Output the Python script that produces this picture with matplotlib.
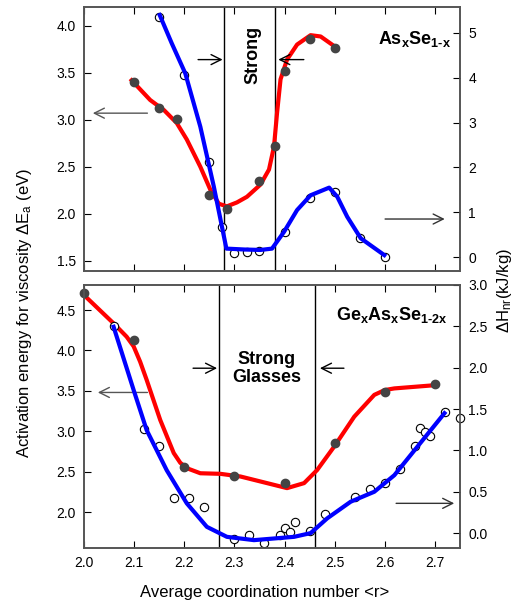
import numpy as np
import matplotlib
matplotlib.use('Agg')
from matplotlib import pyplot as plt

plt.rcParams['font.family'] = ['Liberation Sans', 'DejaVu Sans']
plt.rcParams['mathtext.fontset'] = 'custom'
plt.rcParams['mathtext.rm'] = 'Liberation Sans'
plt.rcParams['mathtext.it'] = 'Liberation Sans'
plt.rcParams['mathtext.bf'] = 'Liberation Sans:bold'

# ---- AsxSe1-x (top panel) ----
top_r_pts = [2.10, 2.15, 2.185, 2.25, 2.285, 2.35, 2.38, 2.40, 2.45, 2.50]
top_e_pts = [3.40, 3.13, 3.01, 2.20, 2.05, 2.35, 2.72, 3.52, 3.86, 3.76]
top_e_fit_r = [2.095, 2.132, 2.16, 2.185, 2.205, 2.232, 2.252, 2.269, 2.285, 2.305, 2.325,
               2.352, 2.369, 2.379, 2.385, 2.392, 2.405, 2.425, 2.452, 2.472, 2.50]
top_e_fit = [3.42, 3.21, 3.10, 2.965, 2.79, 2.50, 2.255, 2.106, 2.078, 2.12, 2.18,
             2.31, 2.47, 2.716, 3.07, 3.43, 3.64, 3.80, 3.90, 3.886, 3.78]

top_h_r_pts = [2.15, 2.20, 2.25, 2.275, 2.30, 2.325, 2.35, 2.40, 2.45, 2.50, 2.55, 2.60]
top_h_pts = [5.35, 4.06, 2.13, 0.68, 0.10, 0.12, 0.14, 0.55, 1.33, 1.46, 0.42, 0.01]
top_h_fit_r = [2.151, 2.175, 2.202, 2.232, 2.259, 2.284, 2.32, 2.352, 2.375, 2.399,
               2.425, 2.452, 2.489, 2.505, 2.525, 2.552, 2.599]
top_h_fit = [5.40, 4.77, 4.10, 2.91, 1.57, 0.19, 0.17, 0.16, 0.19, 0.565,
             1.05, 1.38, 1.55, 1.35, 0.90, 0.42, 0.045]

# ---- GexAsxSe1-2x (bottom panel) ----
bot_r_pts = [2.0, 2.1, 2.2, 2.3, 2.4, 2.5, 2.6, 2.7]
bot_e_pts = [4.71, 4.13, 2.56, 2.45, 2.36, 2.85, 3.49, 3.58]
bot_e_fit_r = [2.0, 2.059, 2.085, 2.099, 2.112, 2.125, 2.152, 2.179, 2.192, 2.205, 2.232,
               2.272, 2.312, 2.365, 2.405, 2.439, 2.465, 2.499, 2.539, 2.579, 2.60,
               2.619, 2.70]
bot_e_fit = [4.685, 4.335, 4.17, 4.05, 3.86, 3.635, 3.14, 2.73, 2.61, 2.543, 2.48,
             2.473, 2.44, 2.358, 2.296, 2.358, 2.52, 2.81, 3.18, 3.45, 3.51,
             3.53, 3.57]

bot_h_r_pts = [2.06, 2.12, 2.15, 2.18, 2.21, 2.24, 2.30, 2.33, 2.36, 2.39, 2.40, 2.41,
               2.42, 2.45, 2.48, 2.54, 2.57, 2.60, 2.63, 2.66, 2.67, 2.68, 2.69, 2.72, 2.75]
bot_h_pts = [2.51, 1.26, 1.05, 0.43, 0.43, 0.31, -0.07, -0.02, -0.12, -0.02, 0.06, 0.01,
             0.14, 0.02, 0.23, 0.44, 0.53, 0.60, 0.77, 1.05, 1.27, 1.22, 1.18, 1.47, 1.39]
bot_h_fit_r = [2.059, 2.099, 2.125, 2.165, 2.205, 2.245, 2.285, 2.339, 2.419, 2.452,
               2.485, 2.532, 2.579, 2.619, 2.659, 2.719]
bot_h_fit = [2.495, 1.73, 1.245, 0.76, 0.36, 0.076, -0.045, -0.085, -0.045, 0.0,
             0.178, 0.38, 0.50, 0.70, 1.00, 1.45]

x_ticks = [2.0, 2.1, 2.2, 2.3, 2.4, 2.5, 2.6, 2.7]

fig = plt.figure(figsize=(5.27, 6.07), dpi=100)
ax_top = fig.add_axes([0.1594, 0.5535, 0.7135, 0.435])
ax_bot = fig.add_axes([0.1594, 0.0972, 0.7135, 0.4333])
ax_top2 = ax_top.twinx()
ax_bot2 = ax_bot.twinx()

red = '#ff0000'
blue = '#0000ff'
dot = '#444444'
spine_c = '#555555'
hy = '\u2010'


def style(ax, ax2):
    ax.set_xlim(2.0, 2.75)
    ax.set_xticks(x_ticks)
    ax.tick_params(direction='in', top=True, length=5, labelsize=10, pad=6)
    ax2.tick_params(direction='in', length=5, labelsize=10, pad=6)
    for a in (ax, ax2):
        for s in a.spines.values():
            s.set_color(spine_c)
            s.set_linewidth(1.2)


def arrow(ax, x0, x1, y, color):
    ax.annotate('', xy=(x1, y), xytext=(x0, y),
                arrowprops=dict(arrowstyle='->', color=color, lw=1, mutation_scale=18))


# top panel
style(ax_top, ax_top2)
ax_top.set_ylim(1.39, 4.2)
ax_top.set_yticks([1.5, 2.0, 2.5, 3.0, 3.5, 4.0])
ax_top.set_yticklabels(['1.5', '2.0', '2.5', '3.0', '3.5', '4.0'])
ax_top.tick_params(labelbottom=False)
ax_top2.set_ylim(-0.31, 5.58)
ax_top2.set_yticks([0, 1, 2, 3, 4, 5])

ax_top.axvline(2.28, color='black', lw=1)
ax_top.axvline(2.38, color='black', lw=1)
ax_top.plot(top_e_fit_r, top_e_fit, color=red, lw=3, solid_joinstyle='round', zorder=2)
ax_top.plot(top_r_pts, top_e_pts, 'o', color=dot, ms=6, zorder=3)
ax_top2.plot(top_h_r_pts, top_h_pts, 'o', mfc='white', mec='black', mew=0.8, ms=6, zorder=2)
ax_top2.plot(top_h_fit_r, top_h_fit, color=blue, lw=3, solid_joinstyle='round', zorder=3)

arrow(ax_top, 2.132, 2.012, 3.07, '#555555')
arrow(ax_top, 2.222, 2.282, 3.64, 'black')
arrow(ax_top, 2.444, 2.382, 3.64, 'black')
arrow(ax_top2, 2.595, 2.725, 0.85, '#333333')
ax_top.text(2.337, 3.69, 'Strong', rotation=90, ha='center', va='center',
            fontsize=13, fontweight='bold')
ax_top.text(2.732, 3.86, r'$\mathbf{As_{x}Se_{1' + hy + 'x}}$', ha='right', va='center', fontsize=13)

# bottom panel
style(ax_bot, ax_bot2)
ax_bot.set_ylim(1.555, 4.81)
ax_bot.set_yticks([2.0, 2.5, 3.0, 3.5, 4.0, 4.5])
ax_bot.set_yticklabels(['2.0', '2.5', '3.0', '3.5', '4.0', '4.5'])
ax_bot.set_xticklabels(['2.0', '2.1', '2.2', '2.3', '2.4', '2.5', '2.6', '2.7'])
ax_bot2.set_ylim(-0.18, 3.0)
ax_bot2.set_yticks([0.0, 0.5, 1.0, 1.5, 2.0, 2.5, 3.0])
ax_bot2.set_yticklabels(['0.0', '0.5', '1.0', '1.5', '2.0', '2.5', '3.0'])

ax_bot.axvline(2.27, color='black', lw=1)
ax_bot.axvline(2.46, color='black', lw=1)
ax_bot.plot(bot_e_fit_r, bot_e_fit, color=red, lw=3, solid_joinstyle='round', zorder=2)
ax_bot.plot(bot_r_pts, bot_e_pts, 'o', color=dot, ms=6, zorder=3, clip_on=False)
ax_bot2.plot(bot_h_r_pts, bot_h_pts, 'o', mfc='white', mec='black', mew=0.8, ms=6,
             zorder=2, clip_on=False)
ax_bot2.plot(bot_h_fit_r, bot_h_fit, color=blue, lw=3, solid_joinstyle='round', zorder=3)

arrow(ax_bot, 2.132, 2.022, 3.48, '#555555')
arrow(ax_bot, 2.212, 2.271, 3.78, 'black')
arrow(ax_bot, 2.524, 2.465, 3.78, 'black')
arrow(ax_bot2, 2.617, 2.744, 0.36, '#333333')
ax_bot.text(2.364, 3.78, 'Strong\nGlasses', ha='center', va='center',
            fontsize=13, fontweight='bold', linespacing=1.1)
ax_bot.text(2.725, 4.44, r'$\mathbf{Ge_{x}As_{x}Se_{1' + hy + '2x}}$', ha='right', va='center',
            fontsize=13)

fig.text(25 / 527, 1 - 313 / 607, r'Activation energy for viscosity $\Delta$E$_\mathrm{a}$ (eV)',
         rotation=90, ha='center', va='center', fontsize=12)
fig.text(505 / 527, 1 - 291 / 607, r'$\Delta$H$_\mathrm{nr}$(kJ/kg)',
         rotation=90, ha='center', va='center', fontsize=12)
fig.text(265 / 527, 1 - 593 / 607, 'Average coordination number <r>',
         ha='center', va='center', fontsize=12)

fig.savefig('out.png', dpi=100)
